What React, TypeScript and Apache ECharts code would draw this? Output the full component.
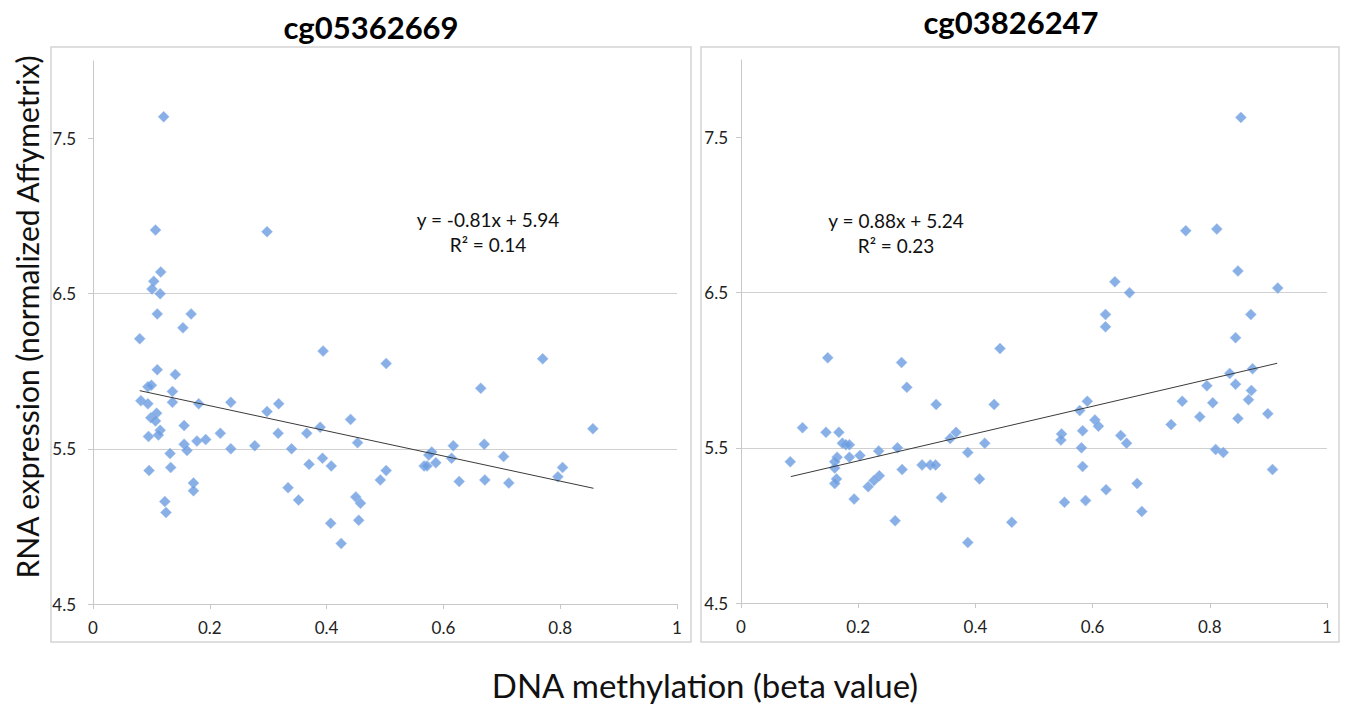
import React, { useEffect, useRef } from "react";
import * as echarts from "echarts";

const titles = ["cg05362669", "cg03826247"];
const xAxisTitle = "DNA methylation (beta value)";
const yAxisTitle = "RNA expression (normalized Affymetrix)";
const yTickValues = [4.5, 5.5, 6.5, 7.5];
const xTickValues = [0, 0.2, 0.4, 0.6, 0.8, 1];

const leftPoints: [number, number][] = [
  [0.121, 7.64], [0.107, 6.91], [0.298, 6.9], [0.116, 6.64], [0.104, 6.58],
  [0.101, 6.53], [0.115, 6.5], [0.11, 6.37], [0.168, 6.37], [0.154, 6.28],
  [0.08, 6.21], [0.394, 6.13], [0.11, 6.01], [0.141, 5.98], [0.094, 5.9],
  [0.1, 5.91], [0.136, 5.87], [0.082, 5.81], [0.094, 5.79], [0.136, 5.8],
  [0.181, 5.79], [0.236, 5.8], [0.298, 5.74], [0.318, 5.79], [0.099, 5.7],
  [0.109, 5.73], [0.107, 5.68], [0.156, 5.65], [0.218, 5.6], [0.115, 5.62],
  [0.112, 5.59], [0.095, 5.58], [0.156, 5.53], [0.161, 5.49], [0.178, 5.55],
  [0.193, 5.56], [0.236, 5.5], [0.277, 5.52], [0.317, 5.6], [0.34, 5.5],
  [0.366, 5.6], [0.389, 5.64], [0.441, 5.69], [0.453, 5.54], [0.132, 5.47],
  [0.133, 5.38], [0.096, 5.36], [0.37, 5.4], [0.393, 5.44], [0.408, 5.39],
  [0.172, 5.28], [0.172, 5.23], [0.334, 5.25], [0.123, 5.16], [0.352, 5.17],
  [0.45, 5.19], [0.458, 5.15], [0.125, 5.09], [0.407, 5.02], [0.455, 5.04],
  [0.425, 4.89], [0.502, 6.05], [0.77, 6.08], [0.664, 5.89], [0.856, 5.63],
  [0.617, 5.52], [0.67, 5.53], [0.58, 5.48], [0.575, 5.46], [0.614, 5.44],
  [0.703, 5.45], [0.567, 5.39], [0.572, 5.39], [0.587, 5.41], [0.502, 5.36],
  [0.804, 5.38], [0.796, 5.32], [0.492, 5.3], [0.627, 5.29], [0.671, 5.3],
  [0.712, 5.28],
];

const rightPoints: [number, number][] = [
  [0.853, 7.63], [0.759, 6.9], [0.812, 6.91], [0.848, 6.64], [0.638, 6.57],
  [0.663, 6.5], [0.916, 6.53], [0.622, 6.36], [0.87, 6.36], [0.622, 6.28],
  [0.844, 6.21], [0.834, 5.98], [0.873, 6.01], [0.844, 5.91], [0.795, 5.9],
  [0.871, 5.87], [0.753, 5.8], [0.805, 5.79], [0.866, 5.81], [0.591, 5.8],
  [0.578, 5.74], [0.783, 5.7], [0.848, 5.69], [0.899, 5.72], [0.604, 5.68],
  [0.61, 5.64], [0.734, 5.65], [0.547, 5.59], [0.583, 5.61], [0.546, 5.55],
  [0.648, 5.58], [0.658, 5.53], [0.581, 5.5], [0.81, 5.49], [0.823, 5.47],
  [0.583, 5.38], [0.907, 5.36], [0.676, 5.27], [0.623, 5.23], [0.552, 5.15],
  [0.588, 5.16], [0.684, 5.09], [0.462, 5.02], [0.442, 6.14], [0.148, 6.08],
  [0.274, 6.05], [0.283, 5.89], [0.333, 5.78], [0.432, 5.78], [0.105, 5.63],
  [0.145, 5.6], [0.167, 5.6], [0.367, 5.6], [0.357, 5.56], [0.173, 5.53],
  [0.179, 5.52], [0.185, 5.52], [0.416, 5.53], [0.267, 5.5], [0.235, 5.48],
  [0.387, 5.47], [0.084, 5.41], [0.164, 5.44], [0.185, 5.44], [0.203, 5.45],
  [0.16, 5.41], [0.16, 5.37], [0.309, 5.39], [0.323, 5.39], [0.332, 5.39],
  [0.275, 5.36], [0.163, 5.3], [0.16, 5.27], [0.236, 5.32], [0.227, 5.29],
  [0.217, 5.25], [0.407, 5.3], [0.193, 5.17], [0.342, 5.18], [0.263, 5.03],
  [0.387, 4.89],
];

// trendline: slope, intercept, x range
const trendSlope = [-0.81, 0.88];
const trendIntercept = [5.94, 5.24];
const trendXStart = [0.08, 0.085];
const trendXEnd = [0.857, 0.915];
const equationTexts = [
  ["y = -0.81x + 5.94", "R² = 0.14"],
  ["y = 0.88x + 5.24", "R² = 0.23"],
];

const FONT = "Lato, 'Open Sans', sans-serif";

export default function App() {
  const ref = useRef<HTMLDivElement>(null);
  useEffect(() => {
    if (!ref.current) return;
    const chart = echarts.init(ref.current, null, { renderer: "svg" });
    const grids = [
      { left: 93, top: 61, width: 584, height: 543 },
      { left: 741, top: 60, width: 586, height: 543 },
    ];
    const yLabelMargins = [17, 13];
    const pointSets = [leftPoints, rightPoints];
    const xAxes = grids.map((_, i) => ({
      type: "value",
      gridIndex: i,
      min: 0,
      max: 1,
      interval: 0.2,
      axisLine: { show: true, lineStyle: { color: "#c8c8c8", width: 1 } },
      axisTick: { show: true, length: 5, lineStyle: { color: "#c8c8c8" } },
      axisLabel: {
        color: "#222",
        fontFamily: FONT,
        fontSize: 17,
        margin: 15,
        customValues: xTickValues,
        formatter: (v: number) => String(Math.round(v * 10) / 10),
      },
      splitLine: { show: false },
    }));
    const yAxes = grids.map((_, i) => ({
      type: "value",
      gridIndex: i,
      min: 4.5,
      max: 8,
      interval: 1,
      axisLine: { show: true, lineStyle: { color: "#c8c8c8", width: 1 } },
      axisTick: {
        show: true,
        length: 5,
        customValues: yTickValues,
        lineStyle: { color: "#c8c8c8" },
      },
      axisLabel: {
        color: "#222",
        fontFamily: FONT,
        fontSize: 17,
        margin: yLabelMargins[i],
        customValues: yTickValues,
        formatter: (v: number) => v.toFixed(1),
      },
      splitLine: {
        show: true,
        showMaxLine: false,
        lineStyle: { color: "#d0d0d0", width: 1 },
      },
    }));
    const series: any[] = [];
    pointSets.forEach((pts, i) => {
      series.push({
        type: "scatter",
        xAxisIndex: i,
        yAxisIndex: i,
        symbol: "diamond",
        symbolSize: 11,
        data: pts,
        itemStyle: {
          color: "#6b9ce0",
          borderColor: "#9dbdec",
          borderWidth: 0.6,
        },
        z: 3,
      });
      const x0 = trendXStart[i];
      const x1 = trendXEnd[i];
      series.push({
        type: "line",
        xAxisIndex: i,
        yAxisIndex: i,
        symbol: "none",
        data: [
          [x0, trendSlope[i] * x0 + trendIntercept[i]],
          [x1, trendSlope[i] * x1 + trendIntercept[i]],
        ],
        lineStyle: { color: "#3a3a3a", width: 1 },
        z: 4,
      });
    });
    const eqPos = [
      [488, 219],
      [896, 220],
    ];
    const graphics: any[] = [
      { type: "rect", shape: { x: 51, y: 47, width: 640, height: 595 }, style: { fill: "none", stroke: "#d4d4d4", lineWidth: 1.5 }, z: 0 },
      { type: "rect", shape: { x: 701, y: 47, width: 638, height: 595 }, style: { fill: "none", stroke: "#d4d4d4", lineWidth: 1.5 }, z: 0 },
      { type: "text", x: 371, y: 27, style: { text: titles[0], font: `bold 31px ${FONT}`, fill: "#000", align: "center", verticalAlign: "middle" } },
      { type: "text", x: 1011, y: 22, style: { text: titles[1], font: `bold 31px ${FONT}`, fill: "#000", align: "center", verticalAlign: "middle" } },
      { type: "text", x: 705, y: 685, style: { text: xAxisTitle, font: `33px ${FONT}`, fill: "#111", align: "center", verticalAlign: "middle" } },
      { type: "text", x: 27, y: 317, rotation: Math.PI / 2, style: { text: yAxisTitle, font: `30px ${FONT}`, fill: "#111", align: "center", verticalAlign: "middle" } },
    ];
    equationTexts.forEach((lines, i) => {
      graphics.push({ type: "text", x: eqPos[i][0], y: eqPos[i][1], style: { text: lines[0], font: `19px ${FONT}`, fill: "#111", align: "center", verticalAlign: "middle" }, z: 10 });
      graphics.push({ type: "text", x: eqPos[i][0], y: eqPos[i][1] + 25, style: { text: lines[1], font: `19px ${FONT}`, fill: "#111", align: "center", verticalAlign: "middle" }, z: 10 });
    });
    chart.setOption({
      animation: false,
      backgroundColor: "#fff",
      grid: grids,
      xAxis: xAxes,
      yAxis: yAxes,
      series,
      graphic: graphics,
    });
    return () => chart.dispose();
  }, []);
  return (
    <div
      ref={ref}
      style={{ position: "absolute", left: 0, top: 0, width: 1347, height: 705, background: "#fff" }}
    />
  );
}
